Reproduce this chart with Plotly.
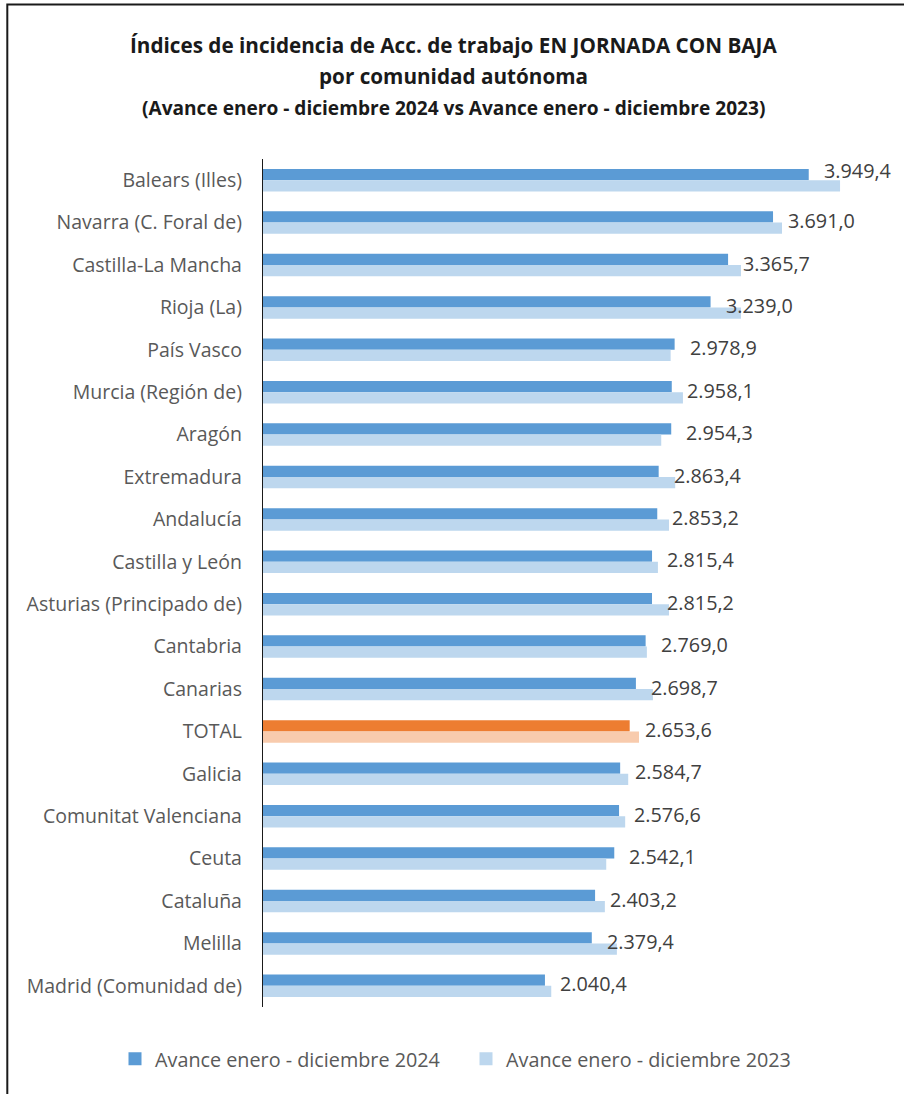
import plotly.graph_objects as go

categories = [
    "Balears (Illes)", "Navarra (C. Foral de)", "Castilla-La Mancha", "Rioja (La)",
    "País Vasco", "Murcia (Región de)", "Aragón", "Extremadura", "Andalucía",
    "Castilla y León", "Asturias (Principado de)", "Cantabria", "Canarias", "TOTAL",
    "Galicia", "Comunitat Valenciana", "Ceuta", "Cataluña", "Melilla",
    "Madrid (Comunidad de)",
]
values_2024 = [3949.4, 3691.0, 3365.7, 3239.0, 2978.9, 2958.1, 2954.3, 2863.4, 2853.2,
               2815.4, 2815.2, 2769.0, 2698.7, 2653.6, 2584.7, 2576.6, 2542.1, 2403.2,
               2379.4, 2040.4]
values_2023 = [4176, 3756, 3459, 3459, 2950, 3039, 2882, 2983, 2938,
               2858, 2938, 2778, 2822, 2721, 2643, 2621, 2484, 2474,
               2561, 2086]
series_names = ["Avance enero - diciembre 2024", "Avance enero - diciembre 2023"]
series_colors = ["#5B9BD5", "#BDD7EE"]
total_colors = ["#ED7D31", "#F8CBAD"]
title_lines = [
    "Índices de incidencia de Acc. de trabajo EN JORNADA CON BAJA",
    "por comunidad autónoma",
    "(Avance enero - diciembre 2024 vs Avance enero - diciembre 2023)",
]

FONT = "'Open Sans', Lato, sans-serif"
W, H = 904, 1094
ML, MR, MT, MB = 263, 33, 159, 87
PW, PH = W - ML - MR, H - MT - MB

def px_x(px):
    return (px - ML) / PW

def px_y(py):
    return (H - MB - py) / PH

def fmt_es(v):
    s = f"{v:,.1f}"
    return s.replace(",", "X").replace(".", ",").replace("X", ".")

c24 = [total_colors[0] if c == "TOTAL" else series_colors[0] for c in categories]
c23 = [total_colors[1] if c == "TOTAL" else series_colors[1] for c in categories]

fig = go.Figure()
fig.add_trace(go.Bar(y=categories, x=values_2024, orientation="h", name=series_names[0],
                     marker=dict(color=c24, line=dict(width=0)), showlegend=False))
fig.add_trace(go.Bar(y=categories, x=values_2023, orientation="h", name=series_names[1],
                     marker=dict(color=c23, line=dict(width=0)), showlegend=False))
# legend entries with square swatches
for name, col in zip(series_names, series_colors):
    fig.add_trace(go.Scatter(x=[None], y=[None], mode="markers", name=name,
                             marker=dict(symbol="square", size=13, color=col, line=dict(width=0)),
                             showlegend=True, hoverinfo="skip"))

annotations = []
for i, (cat, v) in enumerate(zip(categories, values_2024)):
    annotations.append(dict(x=v, y=cat, xref="x", yref="y", text=fmt_es(v), showarrow=False,
                            xanchor="left", yanchor="middle", xshift=13,
                            yshift=10 if i == 0 else 2,
                            font=dict(family=FONT, size=19.8, color="#404040")))

title_y = [45, 76, 108]
title_sizes = [20.7, 20.7, 19.1]
for line, py, sz in zip(title_lines, title_y, title_sizes):
    annotations.append(dict(x=px_x(453), y=px_y(py), xref="paper", yref="paper", text=f"<b>{line}</b>",
                            showarrow=False, xanchor="center", yanchor="middle",
                            font=dict(family=FONT, size=sz, color="#1a1a1a")))

fig.update_layout(
    width=W, height=H,
    margin=dict(l=ML, r=MR, t=MT, b=MB),
    paper_bgcolor="white", plot_bgcolor="white",
    barmode="group", bargap=0.47, bargroupgap=0,
    showlegend=True,
    legend=dict(orientation="h", x=px_x(115), xanchor="left", y=px_y(1059), yanchor="middle",
                font=dict(family=FONT, size=19.8, color="#595959"), traceorder="normal",
                entrywidth=306, entrywidthmode="pixels"),
    annotations=annotations,
    shapes=[dict(type="rect", xref="paper", yref="paper",
                 x0=px_x(7.3), x1=px_x(920), y0=px_y(1110), y1=px_y(4.5),
                 line=dict(color="#1a1a1a", width=2), fillcolor="rgba(0,0,0,0)", layer="below")],
    xaxis=dict(range=[0, 4400], visible=False, showgrid=False, zeroline=False),
    yaxis=dict(autorange="reversed", showline=True, linecolor="#1a1a1a", linewidth=1.3,
               ticks="", showgrid=False, ticklabelstandoff=16,
               tickfont=dict(family=FONT, size=19.5, color="#595959")),
)

fig.write_html("out.html", config={"displayModeBar": False},
               post_script="document.body.style.margin='0';document.body.style.overflow='hidden';")
